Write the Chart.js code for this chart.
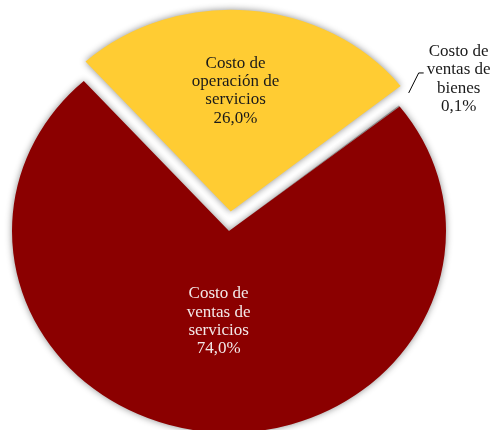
<!DOCTYPE html>
<html>
<head>
<meta charset="utf-8">
<script src="https://cdn.jsdelivr.net/npm/chart.js@4/dist/chart.umd.min.js"></script>
<style>
  html, body { margin: 0; padding: 0; background: #fff; }
  #wrap { width: 494px; height: 430px; }
</style>
</head>
<body>
<div id="wrap"><canvas id="costos"></canvas></div>
<script>
const categorias = [
  ['Costo de', 'operación de', 'servicios'],
  ['Costo de', 'ventas de', 'bienes'],
  ['Costo de', 'ventas de', 'servicios']
];
const porcentajes = [26.0, 0.1, 74.0];
const colores = ['#FFCC33', '#A6A6A6', '#8B0000'];
const colorTexto = ['#1a1a1a', '#1a1a1a', '#F3E8E8'];

// the original pie is slightly flattened
const squash = 0.93;

const elipse = {
  id: 'elipse',
  beforeDatasetsDraw(chart) {
    const arc = chart.getDatasetMeta(0).data[0];
    const ctx = chart.ctx;
    ctx.save();
    ctx.translate(arc.x, arc.y);
    ctx.scale(1, squash);
    ctx.translate(-arc.x, -arc.y);
    ctx.shadowColor = 'rgba(0,0,0,0.45)';
    ctx.shadowBlur = 7;
  },
  afterDatasetsDraw(chart) {
    chart.ctx.restore();
  }
};

const etiquetas = {
  id: 'etiquetas',
  afterDraw(chart) {
    const ctx = chart.ctx;
    const arcs = chart.getDatasetMeta(0).data;
    ctx.save();
    ctx.font = '17px "Liberation Serif", "Times New Roman", serif';
    ctx.textAlign = 'center';
    ctx.textBaseline = 'middle';
    const lh = 18.3;
    arcs.forEach((arc, i) => {
      const p = arc.getProps(['x', 'y', 'startAngle', 'endAngle', 'outerRadius']);
      const mid = (p.startAngle + p.endAngle) / 2;
      // chart.js moves an arc by a quarter of its offset
      const off = (arc.options.offset || 0) / 4;
      const lines = categorias[i].concat(porcentajes[i].toFixed(1).replace('.', ',') + '%');
      const pt = r => ({ x: p.x + Math.cos(mid) * r, y: p.y + Math.sin(mid) * r * squash });
      let cx, cy;
      if (i === 1) {
        const a = pt(p.outerRadius + 12);
        a.y -= 6;
        const b = { x: a.x + 10, y: a.y - 20 };
        ctx.strokeStyle = '#000';
        ctx.lineWidth = 1;
        ctx.beginPath();
        ctx.moveTo(a.x, a.y);
        ctx.lineTo(b.x, b.y);
        ctx.lineTo(b.x + 5, b.y);
        ctx.stroke();
        cx = b.x + 40;
        cy = b.y + 6;
      } else {
        const c = pt(off + p.outerRadius * (i === 0 ? 0.6 : 0.45));
        cx = c.x - (i === 0 ? 6 : 2);
        cy = c.y;
      }
      ctx.fillStyle = colorTexto[i];
      lines.forEach((t, j) => ctx.fillText(t, cx, cy + (j - (lines.length - 1) / 2) * lh));
    });
    ctx.restore();
  }
};

new Chart(document.getElementById('costos'), {
  type: 'pie',
  data: {
    labels: categorias.map(c => c.join(' ')),
    datasets: [{
      data: porcentajes,
      backgroundColor: colores,
      borderWidth: 0,
      offset: [84, 0, 0]
    }]
  },
  options: {
    responsive: true,
    maintainAspectRatio: false,
    animation: false,
    rotation: -42,
    radius: 217,
    layout: { padding: { left: 0, right: 36, top: 32, bottom: 0 } },
    plugins: {
      legend: { display: false },
      tooltip: { enabled: false }
    }
  },
  plugins: [elipse, etiquetas]
});
</script>
</body>
</html>
